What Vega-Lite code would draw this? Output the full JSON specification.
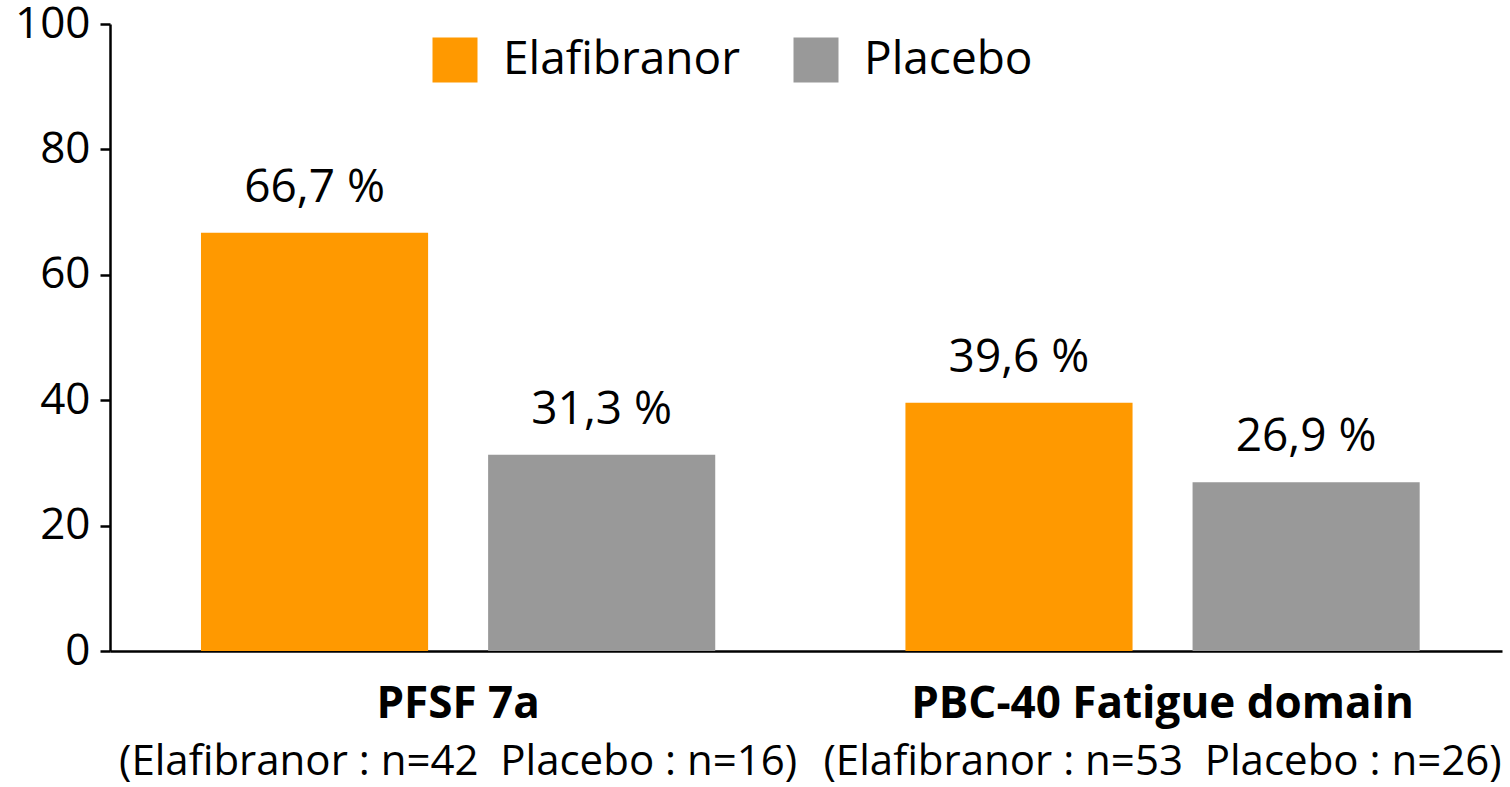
{
  "$schema": "https://vega.github.io/schema/vega-lite/v6.json",
  "autosize": {"type": "none"},
  "padding": {"left": 110, "top": 24, "right": 8, "bottom": 136},
  "width": 1392,
  "height": 627,
  "background": "white",
  "config": {
    "view": {"stroke": null},
    "font": "Open Sans"
  },
  "data": {
    "values": [
      {"group": "PFSF 7a", "treatment": "Elafibranor", "value": 66.7, "label": "66,7 %"},
      {"group": "PFSF 7a", "treatment": "Placebo", "value": 31.3, "label": "31,3 %"},
      {"group": "PBC-40 Fatigue domain", "treatment": "Elafibranor", "value": 39.6, "label": "39,6 %"},
      {"group": "PBC-40 Fatigue domain", "treatment": "Placebo", "value": 26.9, "label": "26,9 %"}
    ]
  },
  "encoding": {
    "x": {
      "field": "group",
      "type": "nominal",
      "sort": ["PFSF 7a", "PBC-40 Fatigue domain"],
      "scale": {"paddingInner": 0.27, "paddingOuter": 0.123, "align": 0.525},
      "axis": {
        "title": null,
        "labelAngle": 0,
        "labelFontSize": 44,
        "labelFontWeight": "bold",
        "labelColor": "black",
        "labelPadding": 31,
        "labelLimit": 0,
        "ticks": false,
        "domainColor": "black",
        "domainWidth": 2.5
      }
    },
    "xOffset": {
      "field": "treatment",
      "type": "nominal",
      "sort": ["Elafibranor", "Placebo"],
      "scale": {"paddingInner": 0.209, "paddingOuter": 0}
    },
    "y": {
      "field": "value",
      "type": "quantitative",
      "scale": {"domain": [0, 100], "nice": false},
      "axis": {
        "title": null,
        "values": [0, 20, 40, 60, 80, 100],
        "grid": false,
        "labelFontSize": 44,
        "labelColor": "black",
        "labelPadding": 10,
        "tickSize": 10,
        "tickColor": "black",
        "tickWidth": 2.5,
        "domainColor": "black",
        "domainWidth": 2.5
      }
    }
  },
  "layer": [
    {
      "mark": {"type": "bar"},
      "encoding": {
        "color": {
          "field": "treatment",
          "type": "nominal",
          "sort": ["Elafibranor", "Placebo"],
          "scale": {"domain": ["Elafibranor", "Placebo"], "range": ["#FF9900", "#999999"]},
          "legend": {
            "title": null,
            "orient": "none",
            "legendX": 322,
            "legendY": 13,
            "direction": "horizontal",
            "symbolType": "square",
            "symbolSize": 2025,
            "symbolStrokeWidth": 0,
            "labelFontSize": 46,
            "labelColor": "black",
            "labelLimit": 0,
            "labelOffset": 25,
            "columnPadding": 52
          }
        }
      }
    },
    {
      "mark": {"type": "text", "fontSize": 46, "baseline": "alphabetic", "dy": -31, "color": "black"},
      "encoding": {
        "text": {"field": "label"},
        "x": {
          "field": "group",
          "type": "nominal",
          "sort": ["PFSF 7a", "PBC-40 Fatigue domain"],
          "scale": {"paddingInner": 0.27, "paddingOuter": 0.123, "align": 0.525},
          "axis": {
            "title": null,
            "orient": "bottom",
            "labelAngle": 0,
            "labelFontSize": 42,
            "labelColor": "black",
            "labelPadding": 90,
            "labelLimit": 0,
            "labelExpr": "datum.value == 'PFSF 7a' ? '(Elafibranor : n=42 \u00a0Placebo : n=16)' : '(Elafibranor : n=53 \u00a0Placebo : n=26)'",
            "ticks": false,
            "domain": false
          }
        }
      }
    }
  ],
  "resolve": {"axis": {"x": "independent"}}
}
